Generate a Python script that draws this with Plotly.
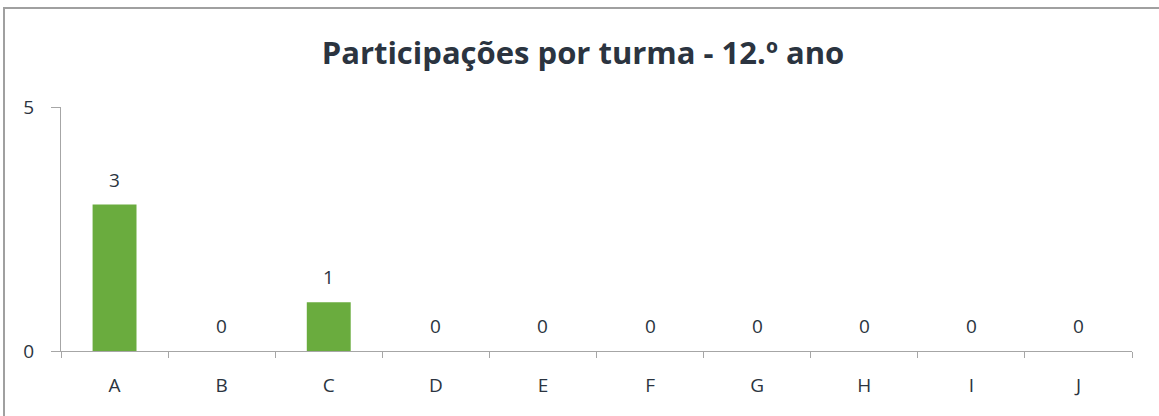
import plotly.graph_objects as go

categories = ["A", "B", "C", "D", "E", "F", "G", "H", "I", "J"]
values = [3, 0, 1, 0, 0, 0, 0, 0, 0, 0]
y_ticks = [0, 5]
title_text = "Participações por turma - 12.º ano"

W, H = 1159, 416
L, R, T, B = 61, 27, 107, 65
pw = W - L - R
ph = H - T - B

txt = "#2b3440"
axis_col = "#a6a6a6"
font_fam = "Open Sans, Liberation Sans, sans-serif"

fig = go.Figure()
fig.add_trace(go.Bar(
    x=categories, y=values,
    marker=dict(color="#6aac3e", line=dict(width=0)),
    width=0.41,
    hoverinfo="x+y",
))

for c, v in zip(categories, values):
    fig.add_annotation(x=c, y=v, text=str(v), showarrow=False,
                       yshift=25, yanchor="middle",
                       font=dict(size=19, color=txt, family=font_fam))

# chart border
fig.add_shape(type="rect", xref="paper", yref="paper",
              x0=(4 - L) / pw, x1=(W + 10 - L) / pw,
              y0=(H - (H + 10) - B) / ph, y1=(H - 8 - B) / ph,
              line=dict(color="#a0a0a0", width=2), layer="below")

fig.update_layout(
    width=W, height=H,
    margin=dict(l=L, r=R, t=T, b=B),
    paper_bgcolor="white", plot_bgcolor="white",
    showlegend=False,
    font=dict(family=font_fam, color=txt, size=19),
    title=dict(text="<b>" + title_text + "</b>", x=583 / W, xanchor="center",
               y=1 - 53 / H, yanchor="middle",
               font=dict(size=31, color=txt, family=font_fam)),
    xaxis=dict(type="category", tickson="boundaries", ticks="outside",
               ticklen=6, tickcolor=axis_col, tickwidth=1,
               showline=True, linecolor=axis_col, linewidth=1,
               showgrid=False, zeroline=False, ticklabelstandoff=17,
               tickfont=dict(size=19, color=txt)),
    yaxis=dict(range=[0, 5], tickvals=y_ticks, ticks="outside",
               ticklen=9, tickcolor=axis_col, tickwidth=1,
               showline=True, linecolor=axis_col, linewidth=1,
               showgrid=False, zeroline=False, ticklabelstandoff=13,
               tickfont=dict(size=19, color=txt)),
)

fig.write_html("out.html",
               config={"displayModeBar": False},
               post_script="document.body.style.margin='0';document.body.style.overflow='hidden';")
